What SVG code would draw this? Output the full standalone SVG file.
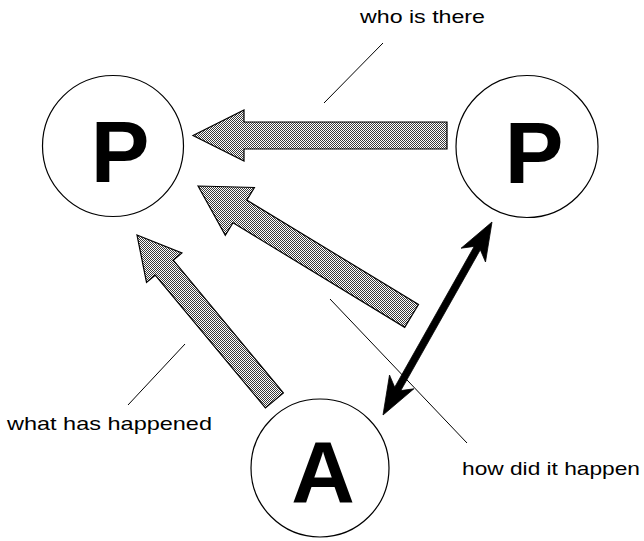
<svg xmlns="http://www.w3.org/2000/svg" width="644" height="541" viewBox="0 0 644 541">
  <defs>
    <!-- dithered grey fill for the broad arrows -->
    <pattern id="dither" patternUnits="userSpaceOnUse" width="2" height="2">
      <rect width="2" height="2" fill="#ffffff"/>
      <rect x="0" y="0" width="1" height="1" fill="#3a3a3a"/>
      <rect x="1" y="1" width="1" height="1" fill="#3a3a3a"/>
    </pattern>
  </defs>
  <style>
    .node circle { fill: #ffffff; stroke: #000000; stroke-width: 1.2; }
    .node text { font-family: "Liberation Sans", Arial, sans-serif; font-weight: bold; font-size: 88px; fill: #000000; text-anchor: middle; }
    .broad { fill: url(#dither); stroke: #000000; stroke-width: 1.2; stroke-linejoin: miter; }
    .solid { fill: #000000; stroke: #000000; stroke-width: 0.8; }
    .leader { stroke: #000000; stroke-width: 1; fill: none; }
    .label { font-family: "Liberation Sans", Arial, sans-serif; font-size: 19px; fill: #000000; }
  </style>

  <rect width="644" height="541" fill="#ffffff"/>

  <!-- nodes -->
  <g id="node-p-left" class="node">
    <circle cx="113" cy="146" r="70.5"/>
    <text x="120" y="182">P</text>
  </g>
  <g id="node-p-right" class="node">
    <circle cx="527" cy="146.5" r="71"/>
    <text x="534" y="183">P</text>
  </g>
  <g id="node-a" class="node">
    <circle cx="320" cy="468" r="69"/>
    <text x="323" y="502">A</text>
  </g>

  <!-- connectors -->
  <g id="connectors">
    <polygon class="broad" points="193,135.5 244,110 244,122 447,122 447,149 244,149 244,161"/>
    <polygon class="broad" points="198,186 254.4,187.5 246.8,200.1 418.5,304.5 404.7,327.3 233,222.8 225.3,235.4"/>
    <polygon class="broad" points="137,235 181.9,253 173.2,260.2 283.4,392.9 265.4,407.9 155.2,275.2 146.5,282.4"/>
    <polygon class="solid" points="383,415 389.5,375 394.7,387.2 474.2,246.4 461.1,248.2 492,222 485.5,262 480.3,249.8 400.8,390.6 413.9,388.8"/>
  </g>

  <!-- labels with leader lines -->
  <g id="labels">
    <line class="leader" x1="383" y1="43" x2="324" y2="103"/>
    <text class="label" x="360" y="23" textLength="125" lengthAdjust="spacingAndGlyphs">who is there</text>
    <line class="leader" x1="185" y1="344" x2="128" y2="405"/>
    <text class="label" x="7" y="430" textLength="205" lengthAdjust="spacingAndGlyphs">what has happened</text>
    <line class="leader" x1="330" y1="299" x2="467" y2="443"/>
    <text class="label" x="462" y="475" textLength="178" lengthAdjust="spacingAndGlyphs">how did it happen</text>
  </g>
</svg>
